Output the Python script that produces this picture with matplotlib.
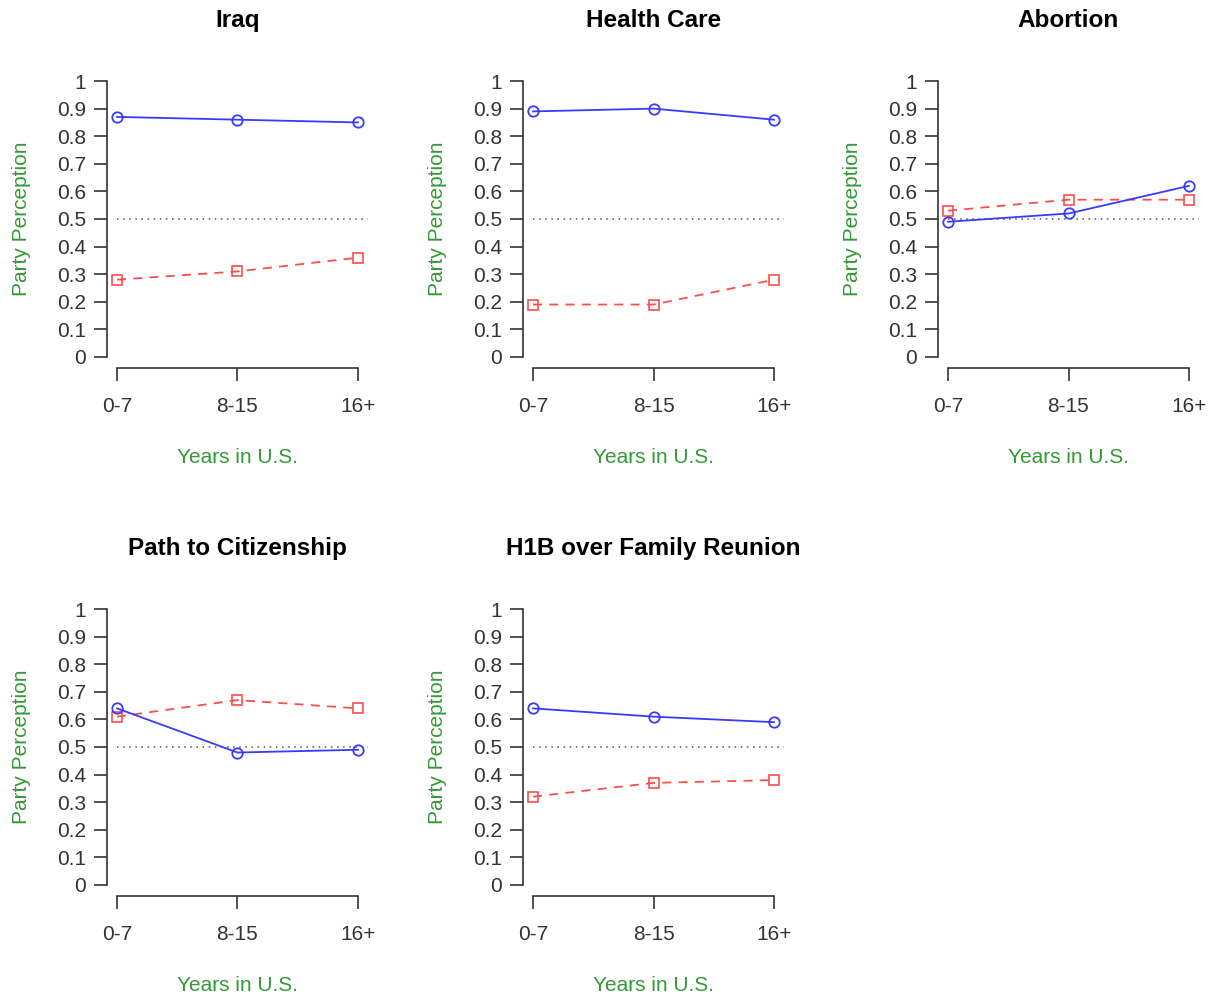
import matplotlib.pyplot as plt
import numpy as np

plt.rcParams['font.family'] = ['Liberation Sans', 'DejaVu Sans']

# 滞在年数のカテゴリ
years = ['0-7', '8-15', '16+']
titles = ['Iraq', 'Health Care', 'Abortion', 'Path to Citizenship',
          'H1B over Family Reunion']

# 政党認識（青: 民主党側, 赤: 共和党側）
blue_vals = [
    [0.87, 0.86, 0.85],
    [0.89, 0.90, 0.86],
    [0.49, 0.52, 0.62],
    [0.64, 0.48, 0.49],
    [0.64, 0.61, 0.59],
]
red_vals = [
    [0.28, 0.31, 0.36],
    [0.19, 0.19, 0.28],
    [0.53, 0.57, 0.57],
    [0.61, 0.67, 0.64],
    [0.32, 0.37, 0.38],
]

W, H = 1215, 998
fig = plt.figure(figsize=(W / 100, H / 100), dpi=100)

lefts = [107.4, 523.4, 938.4]
rows = [(70, 368), (598, 896)]
green = '#339933'
x = np.arange(1, 4)

for i, title in enumerate(titles):
    r, c = divmod(i, 3)
    top, bot = rows[r]
    ax = fig.add_axes([lefts[c] / W, 1 - bot / H, 260.2 / W, (bot - top) / H])

    ax.hlines(0.5, 1, 3.08, colors='#555555', linestyles=(0, (1, 3)), lw=1.1)
    ax.plot(x, red_vals[i], color='#ff4d4d', ls=(0, (5, 4)), lw=1.3,
            marker='s', ms=6.5, mfc='none', mew=1.2)
    ax.plot(x, blue_vals[i], color='#3a3aff', lw=1.3,
            marker='o', ms=7.5, mfc='none', mew=1.3)

    ax.set_xlim(0.92, 3.08)
    ax.set_ylim(-0.04, 1.04)
    ax.set_xticks(x)
    ax.set_xticklabels(years)
    yt = np.round(np.arange(0, 1.01, 0.1), 1)
    ax.set_yticks(yt)
    ax.set_yticklabels(['0' if v == 0 else ('1' if v == 1 else f'{v:g}') for v in yt])

    for s in ['top', 'right']:
        ax.spines[s].set_visible(False)
    ax.spines['left'].set_bounds(0, 1)
    ax.spines['bottom'].set_bounds(1, 3)
    for s in ['left', 'bottom']:
        ax.spines[s].set_color('#333333')
        ax.spines[s].set_linewidth(1.2)
    ax.tick_params(axis='y', length=9.5, width=1.2, pad=6, labelsize=15,
                   colors='#333333')
    ax.tick_params(axis='x', length=9, width=1.2, pad=12, labelsize=15,
                   colors='#333333')

    ax.set_title(title, fontsize=17.5, fontweight='bold', pad=31)
    ax.set_xlabel('Years in U.S.', color=green, fontsize=15)
    ax.xaxis.set_label_coords(0.5, -0.30)
    ax.xaxis.label.set_verticalalignment('center')
    ax.set_ylabel('Party Perception', color=green, fontsize=15)
    ax.yaxis.set_label_coords(-0.33, 0.5)
    ax.yaxis.label.set_verticalalignment('center')

fig.savefig('out.png', dpi=100)
